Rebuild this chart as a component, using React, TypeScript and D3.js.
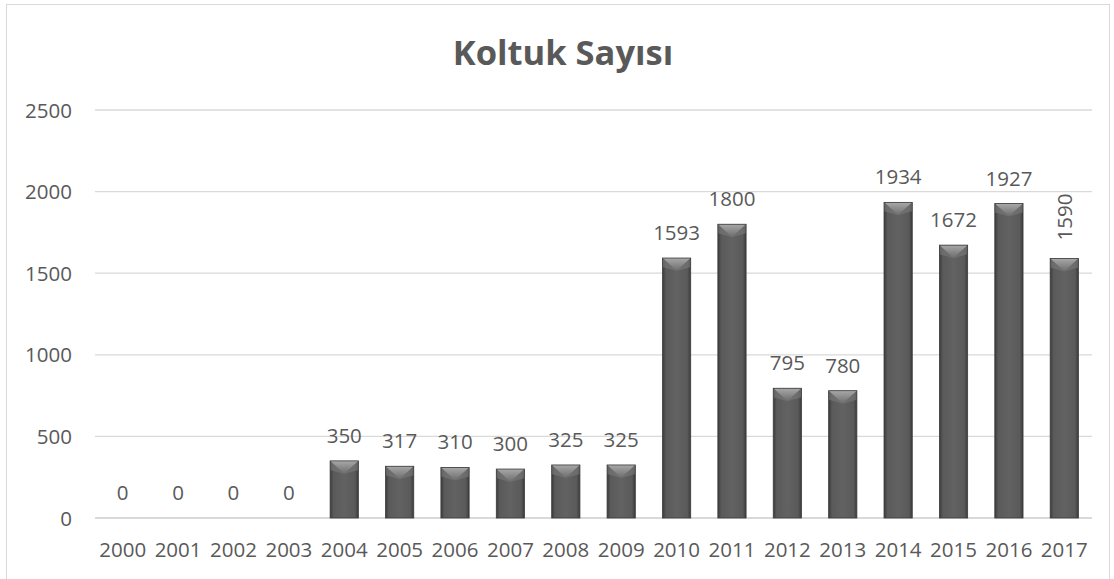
import React from "react";
import * as d3 from "d3";

const years = ["2000","2001","2002","2003","2004","2005","2006","2007","2008","2009","2010","2011","2012","2013","2014","2015","2016","2017"];
const seats = [0,0,0,0,350,317,310,300,325,325,1593,1800,795,780,1934,1672,1927,1590];
const yTicks = [0,500,1000,1500,2000,2500];
const rotatedLabels = ["2017"];
const title = "Koltuk Sayısı";

export default function App() {
  const W = 1114, H = 579;
  const left = 95, right = 1092, top = 110, bottom = 518;
  const x = d3.scaleBand<string>().domain(years).range([left, right]).paddingInner(0.49).paddingOuter(0.245);
  const y = d3.scaleLinear().domain([0, 2500]).range([bottom, top]);
  const font = "'Open Sans', sans-serif";
  const txt = "#595959";
  const fs = 20.5;
  const bw = x.bandwidth();
  return (
    <svg width={W} height={H} style={{ position: "absolute", left: 0, top: 0 }}>
      <defs>
        <linearGradient id="barg" x1="0" x2="1" y1="0" y2="0">
          <stop offset="0" stopColor="#3a3a3a" />
          <stop offset="0.12" stopColor="#5a5a5a" />
          <stop offset="0.5" stopColor="#626262" />
          <stop offset="0.88" stopColor="#5a5a5a" />
          <stop offset="1" stopColor="#3a3a3a" />
        </linearGradient>
        <linearGradient id="bevel" x1="0" x2="0" y1="0" y2="1">
          <stop offset="0" stopColor="#a8a8a8" />
          <stop offset="1" stopColor="#6c6c6c" />
        </linearGradient>
      </defs>
      <rect x={0} y={0} width={W} height={H} fill="#fff" />
      <rect x={6.5} y={4.5} width={1103} height={590} fill="#fff" stroke="#d9d9d9" strokeWidth={1} />
      <text x={563} y={65} textAnchor="middle" fontFamily={font} fontWeight="bold" fontSize={34.5} fill={txt}>{title}</text>
      {yTicks.map(t => (
        <g key={t}>
          <line x1={left} x2={right} y1={y(t)} y2={y(t)} stroke="#d9d9d9" strokeWidth={t === 0 ? 2 : 1.3} />
          <text x={72} y={y(t) + 7.5} textAnchor="end" fontFamily={font} fontSize={fs} fill={txt}>{t}</text>
        </g>
      ))}
      {years.map((yr, i) => {
        const v = seats[i];
        const bx = x(yr)!;
        const by = y(v);
        const h = bottom - by;
        const bev = Math.min(9, h / 2);
        const cx = bx + bw / 2;
        return (
          <g key={yr}>
            {h > 0 && (
              <g>
                <rect x={bx} y={by} width={bw} height={h} fill="url(#barg)" />
                <polygon points={`${bx},${by} ${bx + bw},${by} ${cx},${by + bev + 4}`} fill="url(#bevel)" />
                <polygon points={`${bx},${by} ${cx},${by + bev + 4} ${bx},${by+bev}`} fill="#7a7a7a" opacity={0.6} />
                <polygon points={`${bx+bw},${by} ${cx},${by + bev + 4} ${bx+bw},${by+bev}`} fill="#7a7a7a" opacity={0.6} />
                <rect x={bx} y={by} width={bw} height={h} fill="none" stroke="#3c3c3c" strokeWidth={0.8} />
              </g>
            )}
            {rotatedLabels.includes(yr) ? (
              <text transform={`translate(${cx + 7.5},${by - 18}) rotate(-90)`} textAnchor="start" fontFamily={font} fontSize={fs} fill={txt}>{v}</text>
            ) : (
              <text x={cx} y={by - 18} textAnchor="middle" fontFamily={font} fontSize={fs} fill={txt}>{v}</text>
            )}
            <text x={cx} y={557} textAnchor="middle" fontFamily={font} fontSize={fs} fill={txt}>{yr}</text>
          </g>
        );
      })}
    </svg>
  );
}
